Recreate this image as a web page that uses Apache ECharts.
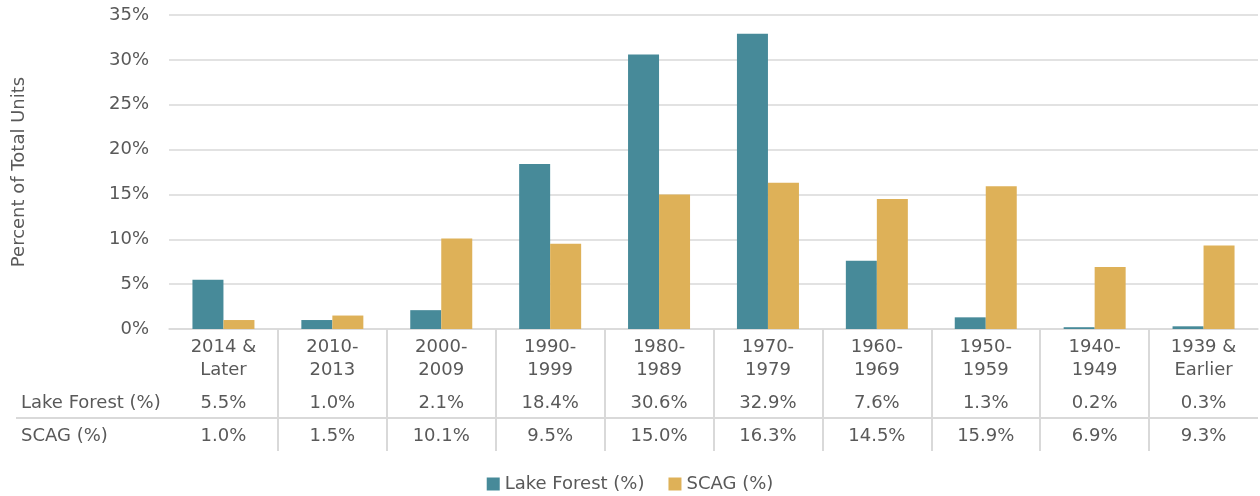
<!DOCTYPE html>
<html><head><meta charset="utf-8">
<script src="https://cdn.jsdelivr.net/npm/echarts@6/dist/echarts.min.js"></script>
<style>html,body{margin:0;padding:0;background:#fff}#c{width:1260px;height:496px}</style>
</head><body><div id="c"></div>
<script>
const categories = ["2014 &\nLater","2010-\n2013","2000-\n2009","1990-\n1999","1980-\n1989","1970-\n1979","1960-\n1969","1950-\n1959","1940-\n1949","1939 &\nEarlier"];
const lakeForest = [5.5,1.0,2.1,18.4,30.6,32.9,7.6,1.3,0.2,0.3];
const scag = [1.0,1.5,10.1,9.5,15.0,16.3,14.5,15.9,6.9,9.3];
const seriesNames = ["Lake Forest (%)","SCAG (%)"];
const yTicks = {min:0,max:35,interval:5};

const FONT = "DejaVu Sans";
const FS = 18;
const TXT = "#595959";
const LINE = "#d9d9d9";
const chart = echarts.init(document.getElementById('c'));
chart.setOption({
  animation:false,
  textStyle:{fontFamily:FONT},
  grid:[
    {left:169,right:2,top:15,bottom:167,containLabel:false},
    {left:169,right:2,top:329,bottom:45,containLabel:false}
  ],
  legend:{top:470,left:'center',itemWidth:13,itemHeight:13,itemGap:24,itemTextGap:5,icon:'rect',
    textStyle:{fontSize:FS,color:TXT,fontFamily:FONT},data:seriesNames},
  xAxis:[
    {type:'category',data:categories,gridIndex:0,
      axisLine:{lineStyle:{color:LINE,width:1.5}},
      axisTick:{show:false},
      axisLabel:{interval:0,margin:7,
        formatter:function(v,i){
          const lines=v.split('\n').map(s=>'{c|'+s+'}').join('\n');
          return lines+'\n{v1|'+lakeForest[i].toFixed(1)+'%}\n{v2|'+scag[i].toFixed(1)+'%}';
        },
        rich:{
          c:{fontSize:FS,color:TXT,lineHeight:23,fontFamily:FONT},
          v1:{fontSize:FS,color:TXT,lineHeight:42,fontFamily:FONT},
          v2:{fontSize:FS,color:TXT,lineHeight:24,fontFamily:FONT}
        }}},
    {type:'category',data:categories,gridIndex:1,
      axisLine:{show:false},axisTick:{show:false},axisLabel:{show:false},
      splitLine:{show:true,interval:0,showMinLine:false,showMaxLine:false,lineStyle:{color:LINE,width:2}}}
  ],
  yAxis:[
    {type:'value',gridIndex:0,min:yTicks.min,max:yTicks.max,interval:yTicks.interval,
      name:'Percent of Total Units',nameLocation:'middle',nameGap:141,
      nameTextStyle:{fontSize:FS,color:TXT,fontFamily:FONT},
      axisLabel:{formatter:'{value}%',fontSize:FS,color:TXT,margin:20},
      splitLine:{lineStyle:{color:LINE,width:1.5}},
      axisLine:{show:false},axisTick:{show:false}},
    {type:'value',gridIndex:1,show:false,min:0,max:1,splitLine:{show:false}}
  ],
  graphic:[
    {type:'text',left:21,top:394,style:{text:'Lake Forest (%)',fontSize:FS,fill:TXT,fontFamily:FONT}},
    {type:'text',left:21,top:427,style:{text:'SCAG (%)',fontSize:FS,fill:TXT,fontFamily:FONT}},
    {type:'line',shape:{x1:16,y1:418,x2:1258,y2:418},style:{stroke:LINE,lineWidth:2}}
  ],
  series:[
    {name:seriesNames[0],type:'bar',data:lakeForest,barWidth:31,barGap:'0%',itemStyle:{color:'#478A99'}},
    {name:seriesNames[1],type:'bar',data:scag,barWidth:31,barGap:'0%',itemStyle:{color:'#DEB158'}}
  ]
});
</script></body></html>
